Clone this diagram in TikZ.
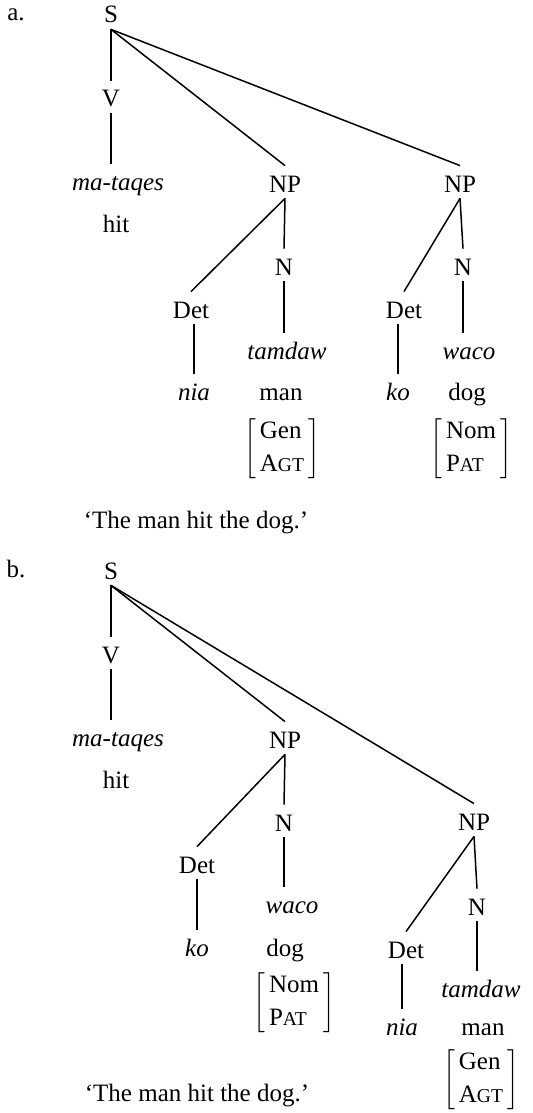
\documentclass[tikz,border=0pt]{standalone}
\usepackage{fontspec}
\setmainfont{Liberation Serif}
\usepackage{tikz}
\AtBeginDocument{\fontsize{12.5}{15}\selectfont}
\newcommand{\smc}[1]{{\fontsize{9.8}{10}\selectfont #1}}
\newcommand{\feat}[2]{$\left[\begin{tabular}{@{\,}l@{\,}}#1\\[1.5pt]#2\end{tabular}\right]$}

\begin{document}
\begin{tikzpicture}[
          cat/.style={inner xsep=1pt, inner ysep=3pt, text height=10pt, text depth=0pt, anchor=base},
          wd/.style={cat, font=\itshape},
          gl/.style={inner sep=0pt, anchor=base},
          ft/.style={inner sep=0pt},
          ed/.style={line width=0.75pt},
          x=0.5pt,
          y=-0.5pt,
        ]
      \useasboundingbox (0, 0) rectangle (533, 1113);
      \node[gl] (la) at (16, 21) {a.};
      \node[cat] (Sa) at (111, 23) {S};
      \node[cat] (Va) at (111, 107) {V};
      \node[wd] (mta) at (118, 190) {ma-taqes};
      \node[gl] (hita) at (116, 232) {hit};
      \node[cat] (NPa1) at (285, 192) {NP};
      \node[cat] (NPa2) at (460, 192) {NP};
      \node[cat] (Deta1) at (191, 318) {Det};
      \node[cat] (Na1) at (284, 275) {N};
      \node[cat] (Deta2) at (404, 318) {Det};
      \node[cat] (Na2) at (463, 275) {N};
      \node[wd] (niaa) at (194, 400) {nia};
      \node[wd] (tama) at (287, 359) {tamdaw};
      \node[gl] (mana) at (281, 400) {man};
      \node[wd] (koa) at (398, 400) {ko};
      \node[wd] (wacoa) at (469, 359) {waco};
      \node[gl] (doga) at (467, 400) {dog};
      \node[ft] (gena) at (282, 449) {\feat{Gen}{A\smc{GT}}};
      \node[ft] (noma) at (471, 449) {\feat{Nom}{P\smc{AT}}};
      \node[gl] (tra) at (196, 528) {‘The man hit the dog.’};
      \draw[ed] (Sa.south) -- (Va.north);
      \draw[ed] (Sa.south) -- (NPa1.north);
      \draw[ed] (Sa.south) -- (NPa2.north);
      \draw[ed] (Va.south) -- (Va.south |- mta.north);
      \draw[ed] (NPa1.south) -- (Deta1.north);
      \draw[ed] (NPa1.south) -- (Na1.north);
      \draw[ed] (Deta1.south -| niaa) -- (niaa.north);
      \draw[ed] (Na1.south) -- (Na1.south |- tama.north);
      \draw[ed] (NPa2.south) -- (Deta2.north);
      \draw[ed] (NPa2.south) -- (Na2.north);
      \draw[ed] (Deta2.south -| koa) -- (koa.north);
      \draw[ed] (Na2.south) -- (Na2.south |- wacoa.north);
      \node[gl] (lb) at (16, 577) {b.};
      \node[cat] (Sb) at (111, 579) {S};
      \node[cat] (Vb) at (111, 663) {V};
      \node[wd] (mtb) at (118, 746) {ma-taqes};
      \node[gl] (hitb) at (116, 788) {hit};
      \node[cat] (NPb1) at (285, 748) {NP};
      \node[cat] (NPb2) at (474, 830) {NP};
      \node[cat] (Detb1) at (197, 873) {Det};
      \node[cat] (Nb1) at (284, 831) {N};
      \node[wd] (kob) at (197, 956) {ko};
      \node[wd] (wacob) at (292, 913) {waco};
      \node[gl] (dogb) at (285, 956) {dog};
      \node[ft] (nomb) at (294, 1003) {\feat{Nom}{P\smc{AT}}};
      \node[cat] (Detb2) at (406, 958) {Det};
      \node[cat] (Nb2) at (477, 915) {N};
      \node[wd] (niab) at (402, 1035) {nia};
      \node[wd] (tamb) at (481, 997) {tamdaw};
      \node[gl] (manb) at (483, 1035) {man};
      \node[ft] (genb) at (481, 1080) {\feat{Gen}{A\smc{GT}}};
      \node[gl] (trb) at (197, 1101) {‘The man hit the dog.’};
      \draw[ed] (Sb.south) -- (Vb.north);
      \draw[ed] (Sb.south) -- (NPb1.north);
      \draw[ed] (Sb.south) -- (NPb2.north);
      \draw[ed] (Vb.south) -- (Vb.south |- mtb.north);
      \draw[ed] (NPb1.south) -- (Detb1.north);
      \draw[ed] (NPb1.south) -- (Nb1.north);
      \draw[ed] (Detb1.south -| kob) -- (kob.north);
      \draw[ed] (Nb1.south) -- (Nb1.south |- wacob.north);
      \draw[ed] (NPb2.south) -- (Detb2.north);
      \draw[ed] (NPb2.south) -- (Nb2.north);
      \draw[ed] (Detb2.south -| niab) -- (niab.north);
      \draw[ed] (Nb2.south) -- (Nb2.south |- tamb.north);
    \end{tikzpicture}
\end{document}
